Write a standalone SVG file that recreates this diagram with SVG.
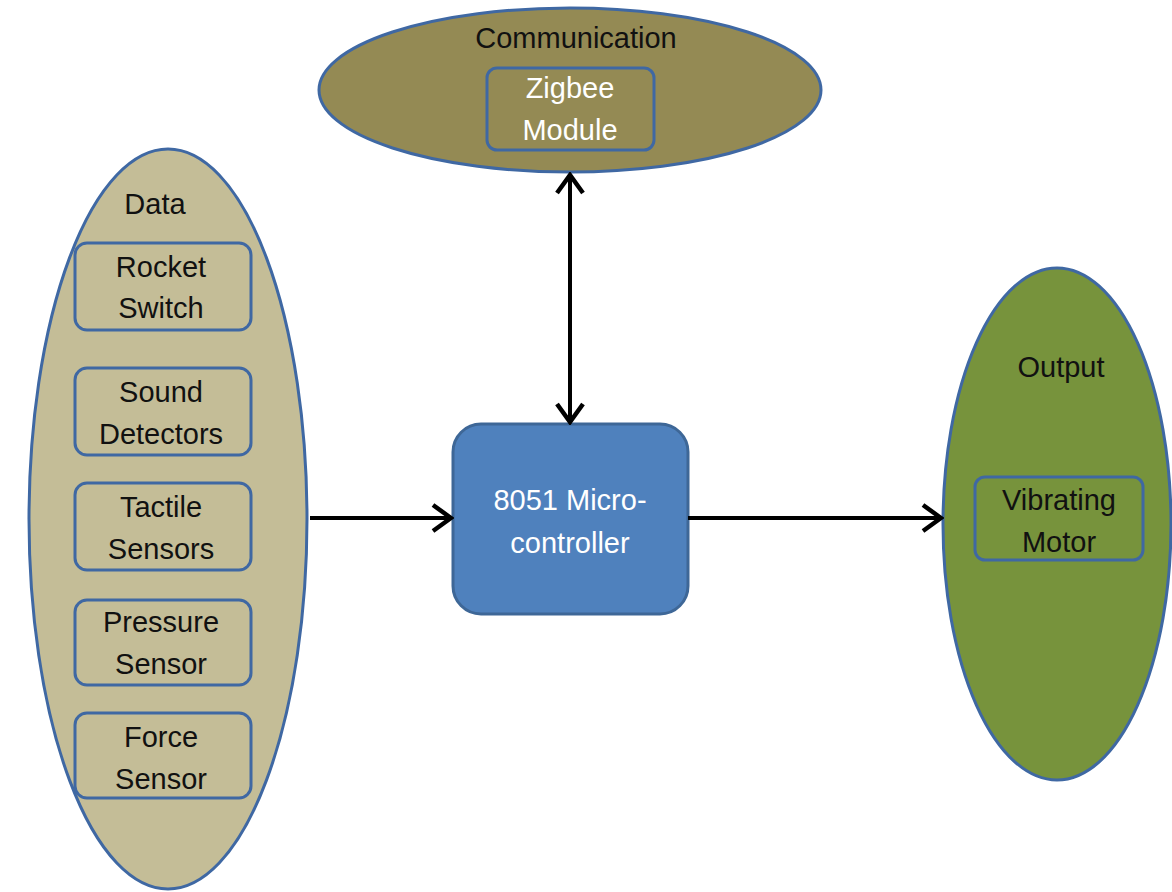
<svg xmlns="http://www.w3.org/2000/svg" width="1172" height="892" viewBox="0 0 1172 892">
<style>
.grp{stroke:#3F68A3;stroke-width:3}
.box{fill:none;stroke:#3F68A3;stroke-width:3}
.t{font-family:"Liberation Sans",Arial,sans-serif;font-size:29px;text-anchor:middle;fill:#111}
.w{fill:#fff}
.c{stroke:#000;stroke-width:4;fill:none}
</style>
<defs>
<marker id="ah" viewBox="0 0 24 32" refX="21" refY="16" markerWidth="24" markerHeight="32" orient="auto-start-reverse" markerUnits="userSpaceOnUse">
<path d="M3,3 L21,16 L3,29" fill="none" stroke="#000" stroke-width="4.5" stroke-linejoin="miter"/>
</marker>
</defs>
<rect width="1172" height="892" fill="#fff"/>
<g id="communication">
<ellipse class="grp" cx="570" cy="90" rx="251" ry="82" fill="#948A54"/>
<text class="t" x="576" y="48">Communication</text>
<rect id="zigbee" class="box" x="487" y="68" width="167" height="82" rx="10"/>
<text class="t w" x="570" y="98">Zigbee</text>
<text class="t w" x="570" y="140">Module</text>
</g>
<g id="data">
<ellipse class="grp" cx="168" cy="519" rx="139" ry="370" fill="#C4BD97"/>
<text class="t" x="155" y="214">Data</text>
<g id="rocket"><rect class="box" x="75" y="243" width="176" height="87" rx="12"/>
<text class="t" x="161" y="277">Rocket</text><text class="t" x="161" y="318">Switch</text></g>
<g id="sound"><rect class="box" x="75" y="368" width="176" height="87" rx="12"/>
<text class="t" x="161" y="402">Sound</text><text class="t" x="161" y="444">Detectors</text></g>
<g id="tactile"><rect class="box" x="75" y="483" width="176" height="87" rx="12"/>
<text class="t" x="161" y="517">Tactile</text><text class="t" x="161" y="559">Sensors</text></g>
<g id="pressure"><rect class="box" x="75" y="600" width="176" height="85" rx="12"/>
<text class="t" x="161" y="632">Pressure</text><text class="t" x="161" y="674">Sensor</text></g>
<g id="force"><rect class="box" x="75" y="713" width="176" height="85" rx="12"/>
<text class="t" x="161" y="747">Force</text><text class="t" x="161" y="789">Sensor</text></g>
</g>
<g id="micro">
<rect x="453" y="424" width="235" height="190" rx="28" fill="#4F81BD" stroke="#3E6797" stroke-width="3"/>
<text class="t w" x="570" y="510">8051 Micro-</text>
<text class="t w" x="570" y="553">controller</text>
</g>
<g id="output">
<ellipse class="grp" cx="1057" cy="524" rx="114" ry="256" fill="#77933C"/>
<text class="t" x="1061" y="377">Output</text>
<g id="motor"><rect class="box" x="975" y="477" width="168" height="83" rx="10"/>
<text class="t" x="1059" y="510">Vibrating</text><text class="t" x="1059" y="552">Motor</text></g>
</g>
<g id="connectors">
<line class="c" x1="310" y1="518" x2="451" y2="518" marker-end="url(#ah)"/>
<line class="c" x1="688" y1="518" x2="941" y2="518" marker-end="url(#ah)"/>
<line class="c" x1="570" y1="175" x2="570" y2="422" marker-start="url(#ah)" marker-end="url(#ah)"/>
</g>
</svg>
